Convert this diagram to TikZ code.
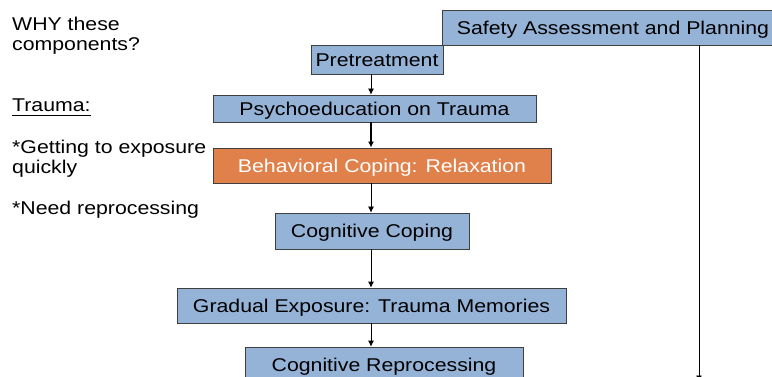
\documentclass[tikz,border=0pt]{standalone}
\usepackage{fontspec}
\setmainfont{Liberation Sans}[FakeStretch=1.15]
\usetikzlibrary{arrows.meta}
\definecolor{stageblue}{HTML}{95B3D7}
\definecolor{stageorange}{HTML}{E0804A}
\definecolor{stageline}{HTML}{3F3F3F}
\tikzset{
  stage/.style={draw=stageline,line width=0.8pt,fill=stageblue,inner sep=0pt,
    text height=13.2pt,text depth=0pt,font=\fontsize{18.5pt}{20pt}\selectfont},
  note/.style={anchor=north west,align=left,inner sep=0pt,
    font=\fontsize{18.5pt}{20pt}\selectfont},
}
\begin{document}
\begin{tikzpicture}[x=1pt,y=-1pt,>={Latex[length=6pt,width=6pt]}]
\useasboundingbox (0,0) rectangle (772,377);
\clip (0,0) rectangle (772,377);
\fill[white] (0,0) rectangle (772,377);
% stages
\node[stage,minimum width=342pt,minimum height=35pt] (safety) at (613,27.5) {Safety Assessment and Planning};
\node[stage,minimum width=132pt,minimum height=29pt] (pre) at (377,59.5) {Pretreatment};
\node[stage,minimum width=323pt,minimum height=27pt] (psycho) at (374.5,108.5) {Psychoeducation on Trauma};
\node[stage,fill=stageorange,text=white,minimum width=338pt,minimum height=35pt] (relax) at (382,165.5) {Behavioral Coping: Relaxation};
\node[stage,minimum width=194pt,minimum height=36pt] (cogcope) at (372,231) {Cognitive Coping};
\node[stage,minimum width=389pt,minimum height=35pt] (exposure) at (371.5,305.5) {Gradual Exposure: Trauma Memories};
\node[stage,minimum width=278pt,minimum height=35pt] (reproc) at (384,364.5) {Cognitive Reprocessing};
\coordinate (spine) at (371,0);
\coordinate (safetyend) at (699,381.5);
% connectors
\draw[->,line width=0.8pt] (pre.south -| spine) -- (psycho.north -| spine);
\draw[->,line width=1.6pt] (psycho.south -| spine) -- (relax.north -| spine);
\draw[->,line width=0.8pt] (relax.south -| spine) -- (cogcope.north -| spine);
\draw[->,line width=0.8pt] (cogcope.south -| spine) -- (exposure.north -| spine);
\draw[->,line width=0.8pt] (exposure.south -| spine) -- (reproc.north -| spine);
\draw[->,line width=0.8pt] (safety.south -| safetyend) -- (safetyend);
% notes on the left
\node[note] (why) at (12,16.7) {WHY these\\components?};
\node[note] (trauma) at (12,98.3) {Trauma:};
\draw[line width=1.4pt] ([yshift=-4pt]trauma.base west) -- ([yshift=-4pt]trauma.base east);
\node[note] (quick) at (12,140) {*Getting to exposure\\quickly};
\node[note] (reproc note) at (12,200.7) {*Need reprocessing};
\end{tikzpicture}
\end{document}
